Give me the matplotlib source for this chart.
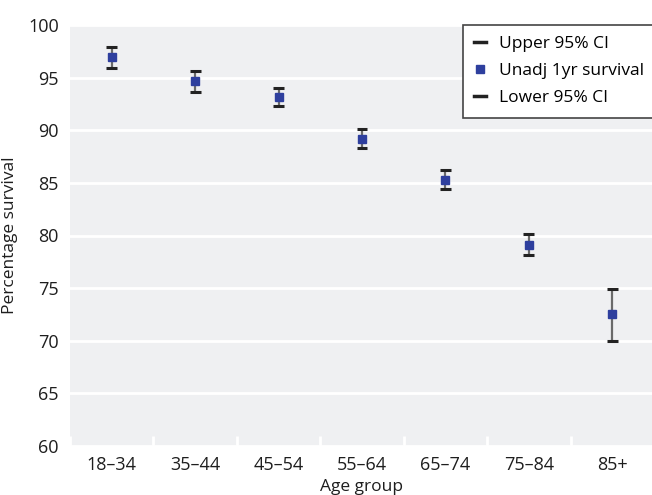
import matplotlib.pyplot as plt
import numpy as np
from matplotlib.lines import Line2D

plt.rcParams['font.family'] = ['Open Sans', 'DejaVu Sans']

# one-year survival by age group with 95% confidence limits
age_groups = ['18–34', '35–44', '45–54', '55–64', '65–74', '75–84', '85+']
survival = [97.0, 94.7, 93.2, 89.2, 85.3, 79.1, 72.5]
upper_ci = [97.9, 95.6, 94.0, 90.1, 86.2, 80.1, 74.9]
lower_ci = [95.9, 93.6, 92.3, 88.3, 84.4, 78.1, 70.0]

bg = '#eff0f2'
blue = '#2e3f9e'
ink = '#1e1e1e'

fig = plt.figure(figsize=(6.52, 4.95), dpi=100)
ax = fig.add_axes([70 / 652, 1 - 446 / 495, 584 / 652, 421 / 495])
ax.set_facecolor(bg)

x = np.arange(len(age_groups))
surv = np.array(survival)
ax.vlines(x, lower_ci, upper_ci, color='#6a6a6a', lw=1.6, zorder=3)
ax.hlines(upper_ci, x - 0.065, x + 0.065, color='#222222', lw=2.2, zorder=4)
ax.hlines(lower_ci, x - 0.065, x + 0.065, color='#222222', lw=2.2, zorder=4)
ax.plot(x, surv, 's', color=blue, ms=5.5, mec=blue, zorder=5)

ax.set_xlim(-0.5, len(age_groups) - 0.5)
ax.set_ylim(60, 100)
ax.set_yticks(range(60, 101, 5))
ax.set_xticks(x)
ax.set_xticklabels(age_groups)
ax.set_xticks(np.arange(-0.5, len(age_groups), 1), minor=True)
ax.tick_params(axis='x', which='major', length=0, labelsize=13, pad=7,
               labelcolor=ink)
ax.tick_params(axis='x', which='minor', direction='in', length=7, width=2,
               color='white')
ax.tick_params(axis='y', length=0, labelsize=13, pad=8, labelcolor=ink)

ax.grid(axis='y', color='white', lw=2)
ax.set_axisbelow(True)
for s in ax.spines.values():
    s.set_visible(False)

ax.set_xlabel('Age group', fontsize=12.5, color=ink, va='center')
ax.xaxis.set_label_coords(0.5, -0.098)
ax.set_ylabel('Percentage survival', fontsize=12.5, color=ink)
ax.yaxis.set_label_coords(-0.089, 0.5)

handles = [
    Line2D([], [], color='#222222', lw=2.5),
    Line2D([], [], ls='none', marker='s', color=blue, ms=6),
    Line2D([], [], color='#222222', lw=2.5),
]
labels = ['Upper 95% CI', 'Unadj 1yr survival', 'Lower 95% CI']
leg = ax.legend(handles, labels, loc='upper left', bbox_to_anchor=(463 / 652, 1 - 25 / 495),
                bbox_transform=fig.transFigure, fontsize=12.5, handlelength=0.7,
                handletextpad=0.7, borderpad=0.65, borderaxespad=0,
                labelspacing=0.62, fancybox=False, framealpha=1,
                edgecolor='#444444')
leg.get_frame().set_linewidth(1.2)

fig.savefig('out.png', dpi=100, facecolor='white')
